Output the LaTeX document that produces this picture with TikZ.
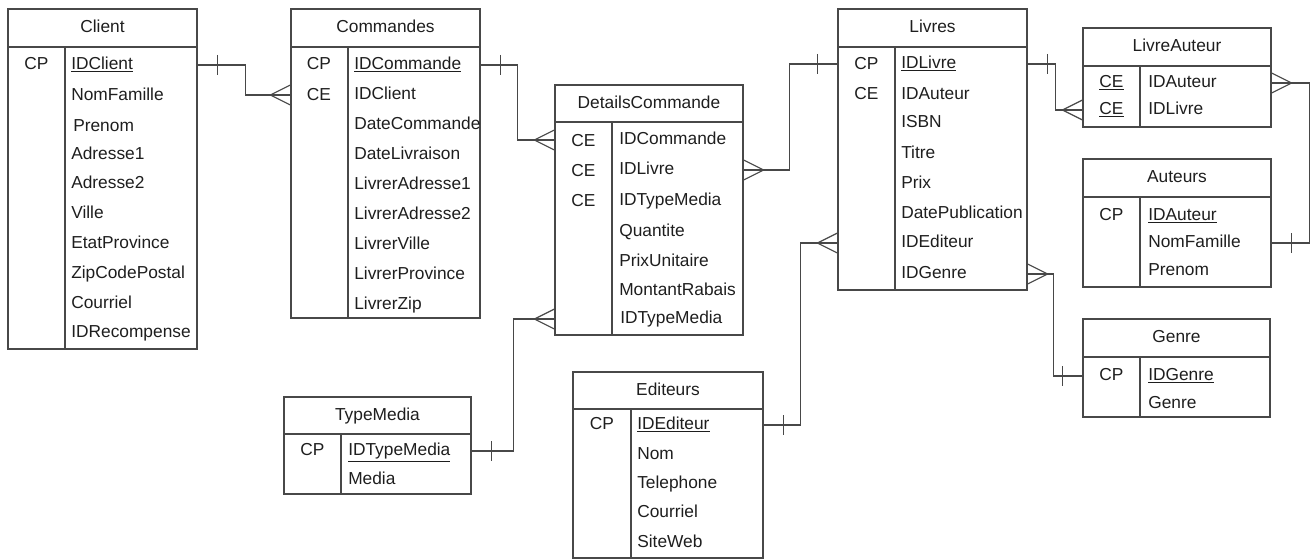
\documentclass[tikz,border=0pt]{standalone}
\usepackage{fontspec}
\setmainfont{Liberation Sans}
\usepackage{tikz}
\usetikzlibrary{positioning,fit,calc}
\definecolor{lineGray}{RGB}{72,72,72}
\definecolor{textGray}{RGB}{30,30,30}

\begin{document}
\begin{tikzpicture}[x=0.75pt,y=-0.75pt,
          tabcol/.style={draw=lineGray, line width=0.9pt, inner sep=0pt},
          titl/.style={inner sep=0pt, font=\fontsize{13}{15}\selectfont,
            text=textGray, text height=9.5pt, text depth=2.5pt},
          fld/.style={anchor=west, inner sep=0pt, font=\fontsize{13}{15}\selectfont,
            text=textGray, text height=9.5pt, text depth=2.5pt},
          keyc/.style={inner sep=0pt, font=\fontsize{13}{15}\selectfont,
            text=textGray, text height=9.5pt, text depth=2.5pt},
          rel/.style={draw=lineGray, line width=0.9pt},
          crowfoot/.pic={\draw[rel] (-20,0) -- (0,-10) (-20,0) -- (0,10);},
          onebar/.pic={\draw[rel] (20,-10) -- (20,10);}
        ]
          \useasboundingbox (0,0) rectangle (1314,560);

          % Client
          \node[tabcol, fit={(8,9) (197,47)}] (client) {};
          \node[titl] (clientT) at (client.center) {Client};
          \node[tabcol, fit={(8,47) (65,349)}] (clK) {};
          \node[tabcol, fit={(65,47) (197,349)}] (clF) {};
          \node[keyc] (clk1) at (36.5,65) {CP};
          \node[fld] (cl1) at (71,65) {\underline{IDClient}};
          \node[fld] (cl2) at (71,96) {NomFamille};
          \node[fld] (cl3) at (73,127) {Prenom};
          \node[fld] (cl4) at (71,155) {Adresse1};
          \node[fld] (cl5) at (71,184) {Adresse2};
          \node[fld] (cl6) at (71,214) {Ville};
          \node[fld] (cl7) at (71,244) {EtatProvince};
          \node[fld] (cl8) at (71,274) {ZipCodePostal};
          \node[fld] (cl9) at (71,304) {Courriel};
          \node[fld] (cl10) at (71,333) {IDRecompense};

          % Commandes
          \node[tabcol, fit={(291,9) (480,47)}] (comm) {};
          \node[titl] (commT) at (comm.center) {Commandes};
          \node[tabcol, fit={(291,47) (348,318)}] (coK) {};
          \node[tabcol, fit={(348,47) (480,318)}] (coF) {};
          \node[keyc] (cok1) at (319,65) {CP};
          \node[keyc] (cok2) at (319,96) {CE};
          \node[fld] (co1) at (354,65) {\underline{IDCommande}};
          \node[fld] (co2) at (354,95) {IDClient};
          \node[fld] (co3) at (354,125) {DateCommande};
          \node[fld] (co4) at (354,155) {DateLivraison};
          \node[fld] (co5) at (354,185) {LivrerAdresse1};
          \node[fld] (co6) at (354,215) {LivrerAdresse2};
          \node[fld] (co7) at (354,245) {LivrerVille};
          \node[fld] (co8) at (354,275) {LivrerProvince};
          \node[fld] (co9) at (354,305) {LivrerZip};

          % DetailsCommande
          \node[tabcol, fit={(555,85) (743,122)}] (det) {};
          \node[titl] (detT) at (det.center) {DetailsCommande};
          \node[tabcol, fit={(555,122) (612,335)}] (deK) {};
          \node[tabcol, fit={(612,122) (743,335)}] (deF) {};
          \node[keyc] (dek1) at (583.5,142) {CE};
          \node[keyc] (dek2) at (583.5,172) {CE};
          \node[keyc] (dek3) at (583.5,202) {CE};
          \node[fld] (de1) at (619,140) {IDCommande};
          \node[fld] (de2) at (619,170) {IDLivre};
          \node[fld] (de3) at (619,201) {IDTypeMedia};
          \node[fld] (de4) at (619,232) {Quantite};
          \node[fld] (de5) at (619,262) {PrixUnitaire};
          \node[fld] (de6) at (619,291) {MontantRabais};
          \node[fld] (de7) at (620,319) {IDTypeMedia};

          % Livres
          \node[tabcol, fit={(838,9) (1027,47)}] (livres) {};
          \node[titl] (livresT) at (livres.center) {Livres};
          \node[tabcol, fit={(838,47) (895,290)}] (lvK) {};
          \node[tabcol, fit={(895,47) (1027,290)}] (lvF) {};
          \node[keyc] (lvk1) at (866.5,65) {CP};
          \node[keyc] (lvk2) at (866.5,95) {CE};
          \node[fld] (lv1) at (901,64) {\underline{IDLivre}};
          \node[fld] (lv2) at (901,95) {IDAuteur};
          \node[fld] (lv3) at (901,123) {ISBN};
          \node[fld] (lv4) at (901,154) {Titre};
          \node[fld] (lv5) at (901,184) {Prix};
          \node[fld] (lv6) at (901,214) {DatePublication};
          \node[fld] (lv7) at (901,243) {IDEditeur};
          \node[fld] (lv8) at (901,274) {IDGenre};

          % LivreAuteur
          \node[tabcol, fit={(1083,28) (1271,66)}] (livaut) {};
          \node[titl] (livautT) at (livaut.center) {LivreAuteur};
          \node[tabcol, fit={(1083,66) (1140,127)}] (laK) {};
          \node[tabcol, fit={(1140,66) (1271,127)}] (laF) {};
          \node[keyc] (lak1) at (1111.5,83) {\underline{CE}};
          \node[keyc] (lak2) at (1111.5,110) {\underline{CE}};
          \node[fld] (la1) at (1148,83) {IDAuteur};
          \node[fld] (la2) at (1148,110) {IDLivre};

          % Auteurs
          \node[tabcol, fit={(1083,159) (1271,197)}] (auteurs) {};
          \node[titl] (auteursT) at (auteurs.center) {Auteurs};
          \node[tabcol, fit={(1083,197) (1140,287)}] (auK) {};
          \node[tabcol, fit={(1140,197) (1271,287)}] (auF) {};
          \node[keyc] (auk1) at (1111.5,216) {CP};
          \node[fld] (au1) at (1148,216) {\underline{IDAuteur}};
          \node[fld] (au2) at (1148,243) {NomFamille};
          \node[fld] (au3) at (1148,271) {Prenom};

          % Genre
          \node[tabcol, fit={(1083,319) (1270,357)}] (genre) {};
          \node[titl] (genreT) at (genre.center) {Genre};
          \node[tabcol, fit={(1083,357) (1140,417)}] (geK) {};
          \node[tabcol, fit={(1140,357) (1270,417)}] (geF) {};
          \node[keyc] (gek1) at (1111.5,376) {CP};
          \node[fld] (ge1) at (1148,376) {\underline{IDGenre}};
          \node[fld] (ge2) at (1148,404) {Genre};

          % TypeMedia
          \node[tabcol, fit={(284,397) (471,434)}] (typemedia) {};
          \node[titl] (typemediaT) at (typemedia.center) {TypeMedia};
          \node[tabcol, fit={(284,434) (341,494)}] (tmK) {};
          \node[tabcol, fit={(341,434) (471,494)}] (tmF) {};
          \node[keyc] (tmk1) at (312.5,451) {CP};
          \node[fld] (tm1) at (348,451) {\underline{IDTypeMedia}};
          \node[fld] (tm2) at (348,480) {Media};

          % Editeurs
          \node[tabcol, fit={(573,372) (763,409)}] (editeurs) {};
          \node[titl] (editeursT) at (editeurs.center) {Editeurs};
          \node[tabcol, fit={(573,409) (631,558)}] (edK) {};
          \node[tabcol, fit={(631,409) (763,558)}] (edF) {};
          \node[keyc] (edk1) at (602,425) {CP};
          \node[fld] (ed1) at (637,425) {\underline{IDEditeur}};
          \node[fld] (ed2) at (637,455) {Nom};
          \node[fld] (ed3) at (637,484) {Telephone};
          \node[fld] (ed4) at (637,513) {Courriel};
          \node[fld] (ed5) at (637,543) {SiteWeb};

          % relations
          \draw[rel] (clF.east |- cl1) -- ++(48,0) |- (coK.west |- co2);
          \pic at (clF.east |- cl1) {onebar};
          \pic at (coK.west |- co2) {crowfoot};

          \draw[rel] (coF.east |- co1) -- ++(37,0) |- (deK.west |- de1);
          \pic at (coF.east |- co1) {onebar};
          \pic at (deK.west |- de1) {crowfoot};

          \draw[rel] (lvK.west |- lv1) -- ++(-48,0) |- (deF.east |- de2);
          \pic[xscale=-1] at (lvK.west |- lv1) {onebar};
          \pic[xscale=-1] at (deF.east |- de2) {crowfoot};

          \draw[rel] (tmF.east |- tm1) -- ++(42,0) |- (deK.west |- de7);
          \pic at (tmF.east |- tm1) {onebar};
          \pic at (deK.west |- de7) {crowfoot};

          \draw[rel] (edF.east |- ed1) -- ++(37,0) |- (lvK.west |- lv7);
          \pic at (edF.east |- ed1) {onebar};
          \pic at (lvK.west |- lv7) {crowfoot};

          \draw[rel] (lvF.east |- lv1) -- ++(28,0) |- (laK.west |- la2);
          \pic at (lvF.east |- lv1) {onebar};
          \pic at (laK.west |- la2) {crowfoot};

          \draw[rel] (laF.east |- la1) -- ++(38,0) |- (auF.east |- au2);
          \pic[xscale=-1] at (laF.east |- la1) {crowfoot};
          \pic at (auF.east |- au2) {onebar};

          \draw[rel] (lvF.east |- lv8) -- ++(26,0) |- (geK.west |- ge1);
          \pic[xscale=-1] at (lvF.east |- lv8) {crowfoot};
          \pic[xscale=-1] at (geK.west |- ge1) {onebar};
        \end{tikzpicture}
\end{document}
